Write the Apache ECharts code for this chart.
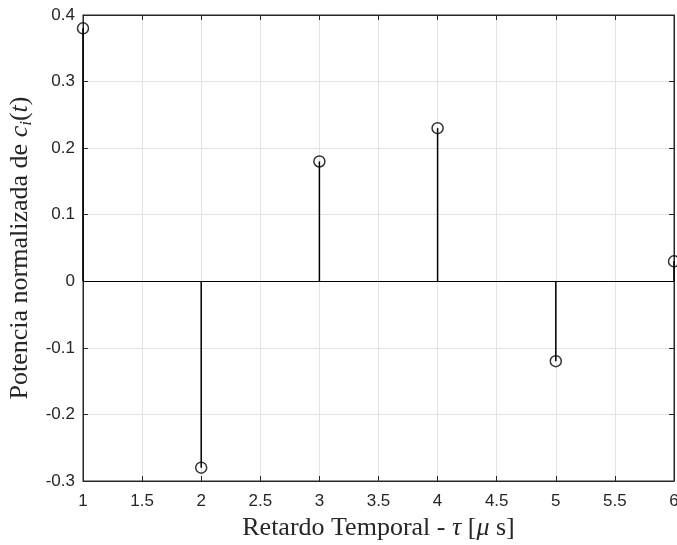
<!DOCTYPE html>
<html>
<head>
<meta charset="utf-8">
<script src="https://cdn.jsdelivr.net/npm/echarts@6/dist/echarts.min.js"></script>
<style>
  html, body { margin: 0; padding: 0; background: #fff; }
  #chart { width: 677px; height: 545px; }
</style>
</head>
<body>
<div id="chart"></div>
<script>
// stem data
const delays = [1, 2, 3, 4, 5, 6]
const power = [0.38, -0.28, 0.18, 0.23, -0.12, 0.03]

const xTicks = { min: 1, max: 6, interval: 0.5 }
const yTicks = { min: -0.3, max: 0.4, interval: 0.1 }

const stemPoints = delays.map((d, i) => [d, power[i]])

const axisColor = '#262626'
const gridColor = '#e3e3e3'
const tickFont = { fontFamily: 'Liberation Sans, Arial', fontSize: 17, color: axisColor }
const titleSize = 26

const fmt = (v) => String(Math.round(v * 10) / 10)

const chart = echarts.init(document.getElementById('chart'))

const option = {
  animation: false,
  backgroundColor: '#fff',
  grid: {
    left: 83, right: 3, top: 15, bottom: 64,
    outerBoundsMode: 'none',
    containLabel: false,
    show: true, borderColor: axisColor, borderWidth: 1
  },
  xAxis: [
    {
      type: 'value',
      min: xTicks.min, max: xTicks.max, interval: xTicks.interval,
      axisLine: { show: true, onZero: false, lineStyle: { color: axisColor } },
      axisTick: { show: true, inside: true, length: 5, lineStyle: { color: axisColor } },
      axisLabel: { ...tickFont, margin: 12, formatter: fmt },
      splitLine: { show: true, lineStyle: { color: gridColor } },
      name: '{n|Retardo Temporal - }{it|τ}{n| [}{it|μ}{n| s]}',
      nameLocation: 'middle',
      nameGap: 31,
      nameTextStyle: {
        rich: {
          n: { fontFamily: 'Liberation Serif', fontSize: titleSize, color: axisColor },
          it: { fontFamily: 'Liberation Serif', fontStyle: 'italic', fontSize: titleSize, color: axisColor }
        }
      }
    },
    {
      type: 'value', position: 'top',
      min: xTicks.min, max: xTicks.max, interval: xTicks.interval,
      axisLine: { show: true, onZero: false, lineStyle: { color: axisColor } },
      axisTick: { show: true, inside: true, length: 5, lineStyle: { color: axisColor } },
      axisLabel: { show: false },
      splitLine: { show: false }
    }
  ],
  yAxis: [
    {
      type: 'value',
      min: yTicks.min, max: yTicks.max, interval: yTicks.interval,
      axisLine: { show: true, onZero: false, lineStyle: { color: axisColor } },
      axisTick: { show: true, inside: true, length: 5, lineStyle: { color: axisColor } },
      axisLabel: { ...tickFont, margin: 8, formatter: fmt },
      splitLine: { show: true, lineStyle: { color: gridColor } },
      name: '{n|Potencia normalizada de }{it|c}{sub|i}{n|(}{it|t}{n|)}',
      nameLocation: 'middle',
      nameRotate: 90,
      nameGap: 47,
      nameTextStyle: {
        rich: {
          n: { fontFamily: 'Liberation Serif', fontSize: titleSize, color: axisColor, lineHeight: 30 },
          it: { fontFamily: 'Liberation Serif', fontStyle: 'italic', fontSize: titleSize, color: axisColor, lineHeight: 30 },
          sub: { fontFamily: 'Liberation Serif', fontStyle: 'italic', fontSize: 17, color: axisColor, verticalAlign: 'bottom', lineHeight: 30 }
        }
      }
    },
    {
      type: 'value', position: 'right',
      min: yTicks.min, max: yTicks.max, interval: yTicks.interval,
      axisLine: { show: true, onZero: false, lineStyle: { color: axisColor } },
      axisTick: { show: true, inside: true, length: 5, lineStyle: { color: axisColor } },
      axisLabel: { show: false },
      splitLine: { show: false }
    }
  ],
  series: [
    {
      // stems from zero to each value
      type: 'custom',
      xAxisIndex: 0, yAxisIndex: 0,
      data: stemPoints,
      clip: false,
      renderItem: (params, api) => {
        const top = api.coord([api.value(0), api.value(1)])
        const base = api.coord([api.value(0), 0])
        return {
          type: 'line',
          shape: { x1: base[0], y1: base[1], x2: top[0], y2: top[1] },
          style: { stroke: '#000', lineWidth: 1.5 }
        }
      },
      z: 3
    },
    {
      type: 'scatter',
      xAxisIndex: 0, yAxisIndex: 0,
      data: stemPoints,
      clip: false,
      symbol: 'circle',
      symbolSize: 11,
      itemStyle: { color: 'rgba(0,0,0,0)', borderColor: '#000', borderWidth: 1.5 },
      markLine: {
        silent: true,
        symbol: 'none',
        label: { show: false },
        lineStyle: { color: '#000', width: 1, type: 'solid' },
        data: [{ yAxis: 0 }]
      },
      z: 4
    }
  ]
}

chart.setOption(option)
</script>
</body>
</html>
